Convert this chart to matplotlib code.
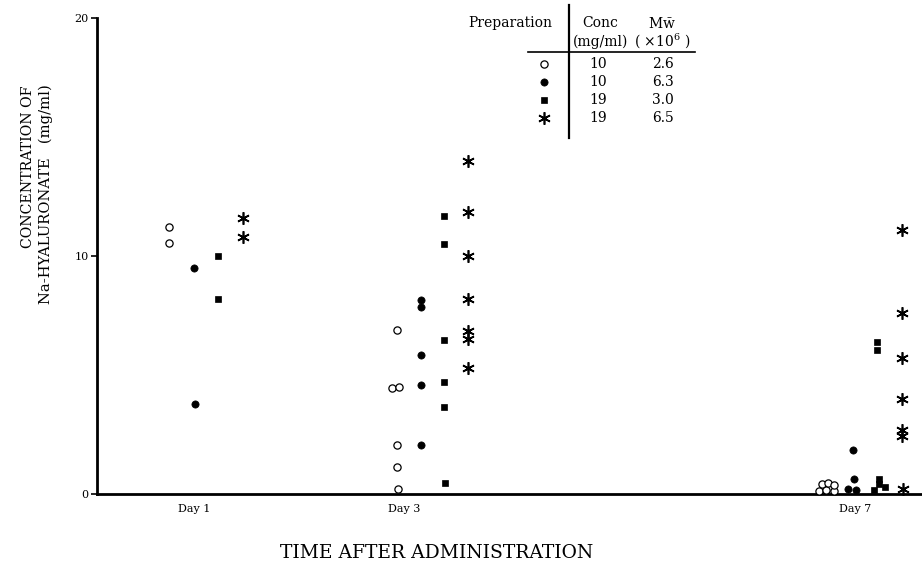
import matplotlib
matplotlib.use("Agg")
import matplotlib.pyplot as plt
from matplotlib.lines import Line2D
import numpy as np

plt.rcParams['font.family'] = ['DejaVu Serif']
plt.rcParams['mathtext.fontset'] = 'dejavuserif'

# ---------------- data (mg/ml) ----------------
days = ["Day 1", "Day 3", "Day 7"]

open_circle = [[11.2, 10.55],
               [6.9, 4.45, 4.5, 2.05, 1.13, 0.2],
               [0.12, 0.15, 0.12, 0.4, 0.48, 0.38]]
filled_circle = [[9.5, 3.8],
                 [8.15, 7.85, 5.85, 4.6, 2.05],
                 [1.85, 0.63, 0.2, 0.15]]
square = [[10.0, 8.2],
          [11.7, 10.5, 6.45, 4.7, 3.65, 0.45],
          [6.4, 6.05, 0.65, 0.4, 0.3, 0.15]]
asterisk = [[11.6, 10.8],
            [14.0, 11.85, 10.0, 8.2, 6.85, 6.5, 5.3],
            [11.1, 7.6, 5.7, 4.0, 2.7, 2.45, 0.2]]

prep_conc = ["10", "10", "19", "19"]
prep_mw = ["2.6", "6.3", "3.0", "6.5"]

yticks = [0, 10, 20]

# ---------------- layout ----------------
W, H = 922, 565
fig = plt.figure(figsize=(W / 100, H / 100), dpi=100)
ax_l, ax_r, ax_t, ax_b = 97, 922, 18, 494
ax = fig.add_axes([ax_l / W, 1 - ax_b / H, (ax_r - ax_l) / W, (ax_b - ax_t) / H])

XMAX = 8.5
PX = XMAX / (ax_r - ax_l)          # data units per pixel
label_pos = [1.0, 3.17, 7.81]       # x position of day labels
group_start = [0.742, 3.09, 7.53]   # x position of first series in each group
step = [0.253, 0.244, 0.254]        # spacing between series in each group

# small horizontal jitter (pixels) for overlapping points
jit_open = [[0, 0], [0, -4.5, 2, 0, 0, 1], [-9, -2, 6, -6, 0, 6]]
jit_filled = [[0, 1], [0, 0, 0, 0, 0], [0, 1, -5, 3]]
jit_square = [[0, 0], [0, 0, 0, 0, 0, 1], [0, 0, 2, 2, 8, -3]]
jit_star = [[0, 0], [0, 0, 0, 0, 0, 0, 0], [0, 0, 0, 0, 0, 0, 1]]

series = [
    (open_circle, jit_open, dict(marker='o', ms=5.2, mfc='white', mec='black', mew=0.9)),
    (filled_circle, jit_filled, dict(marker='o', ms=5.2, mfc='black', mec='black', mew=0.5)),
    (square, jit_square, dict(marker='s', ms=5.0, mfc='black', mec='black', mew=0.5)),
    (asterisk, jit_star, dict(marker=(6, 2, 0), ms=9, mfc='black', mec='black', mew=1.2)),
]

for si, (vals, jit, style) in enumerate(series):
    for g in range(3):
        x0 = group_start[g] + si * step[g]
        xs = [x0 + j * PX for j in jit[g]]
        ax.plot(xs, vals[g], linestyle='none', clip_on=False, zorder=3, **style)

ax.set_xlim(0, XMAX)
ax.set_ylim(0, 20)
ax.set_xticks(label_pos)
ax.set_xticklabels(days, fontsize=8)
ax.tick_params(axis='x', length=0, pad=7)
ax.set_yticks(yticks)
ax.set_yticklabels([str(t) for t in yticks], fontsize=8)
ax.tick_params(axis='y', direction='out', length=4, width=1.2, pad=2)
for s in ['top', 'right']:
    ax.spines[s].set_visible(False)
for s in ['left', 'bottom']:
    ax.spines[s].set_linewidth(2.0)

# axis titles
fig.text(28 / W, 1 - 86 / H, "CONCENTRATION OF", rotation=90, ha='center', va='top', fontsize=10.2)
fig.text(46 / W, 1 - 84 / H, "Na-HYALURONATE   (mg/ml)", rotation=90, ha='center', va='top', fontsize=10.6)
fig.text(437 / W, 1 - 553 / H, "TIME AFTER ADMINISTRATION", ha='center', va='center', fontsize=13.5)

# ---------------- legend table ----------------
def fx(px):
    return px / W

def fy(py):
    return 1 - py / H

tfs = 10
fig.text(fx(510), fy(23), "Preparation", ha='center', va='center', fontsize=tfs)
fig.text(fx(600), fy(23), "Conc", ha='center', va='center', fontsize=tfs)
fig.text(fx(601), fy(42), "(mg/ml)", ha='center', va='center', fontsize=tfs)
fig.text(fx(662), fy(23), r"M$\bar{\mathrm{w}}$", ha='center', va='center', fontsize=tfs)
fig.text(fx(662), fy(41), r"( $\times$10$^{6}$ )", ha='center', va='center', fontsize=tfs)
fig.add_artist(Line2D([fx(569), fx(569)], [fy(5), fy(138)], color='black', lw=1.6, transform=fig.transFigure))
fig.add_artist(Line2D([fx(528), fx(695)], [fy(52), fy(52)], color='black', lw=1.2, transform=fig.transFigure))

row_y = [64, 82, 100, 118]
for i, (vals, jit, style) in enumerate(series):
    st = dict(style)
    fig.add_artist(Line2D([fx(544)], [fy(row_y[i])], linestyle='none', transform=fig.transFigure, **st))
    fig.text(fx(598), fy(row_y[i]), prep_conc[i], ha='center', va='center', fontsize=tfs)
    fig.text(fx(663), fy(row_y[i]), prep_mw[i], ha='center', va='center', fontsize=tfs)

fig.savefig("out.png", dpi=100)
